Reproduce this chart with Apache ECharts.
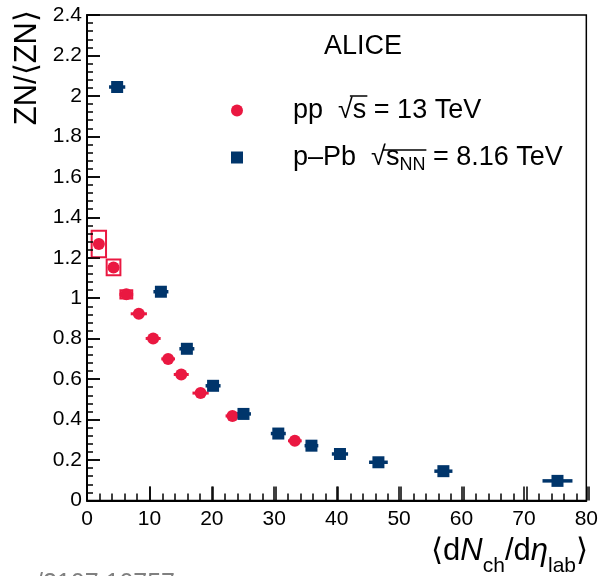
<!DOCTYPE html>
<html>
<head>
<meta charset="utf-8">
<script src="https://cdn.jsdelivr.net/npm/echarts@6/dist/echarts.min.js"></script>
<style>
  html, body { margin: 0; padding: 0; background: #fff; }
  #wrap { position: relative; width: 601px; height: 576px; }
  #chart, #ticks { position: absolute; left: 0; top: 0; width: 601px; height: 576px; }
  #ticks { pointer-events: none; }
</style>
</head>
<body>
<div id="wrap">
  <div id="chart"></div>
  <div id="ticks"></div>
</div>
<script>
// pp 13 TeV
const ppX = [1.9, 4.25, 6.3, 8.3, 10.6, 13.0, 15.1, 18.2, 23.3, 33.3];
const ppY = [1.268, 1.152, 1.019, 0.923, 0.801, 0.700, 0.623, 0.531, 0.418, 0.295];
const ppXErr = [0.4, 0.5, 1.1, 1.3, 1.2, 1.1, 1.2, 1.3, 1.1, 1.1];
const ppSysX = [1.15, 1.1, 0.95, 0, 0, 0, 0, 0, 0, 0];
const ppSysY = [0.066, 0.039, 0.02, 0, 0, 0, 0, 0, 0, 0];

// p-Pb 8.16 TeV
const pPbX = [4.83, 11.84, 16.0, 20.2, 25.07, 30.65, 35.96, 40.53, 46.69, 57.1, 75.38];
const pPbY = [2.044, 1.032, 0.750, 0.567, 0.428, 0.331, 0.271, 0.230, 0.189, 0.145, 0.097];
const pPbXErr = [1.3, 1.2, 1.2, 1.2, 1.2, 1.2, 1.1, 1.3, 1.5, 1.45, 2.4];

const xTicks = [0, 10, 20, 30, 40, 50, 60, 70, 80];
const yTicks = [0, 0.2, 0.4, 0.6, 0.8, 1, 1.2, 1.4, 1.6, 1.8, 2, 2.2, 2.4];

const RED = '#ea1841';
const BLUE = '#00356b';
const FONT = '"Liberation Sans", Arial, Helvetica, sans-serif';

const GRID = { left: 87, right: 12, top: 15, bottom: 75.5 };

const LEG_LEFT = 226;
const LEG_TOP = 92;
const LEG_ICON = 12;
const LEG_PAD = 45;

function zip(xs, ys, ...extra) {
  return xs.map((x, i) => [x, ys[i], ...extra.map((a) => a[i])]);
}

// text widths, for the overline of the square roots in the legend
const mctx = document.createElement('canvas').getContext('2d');
function tw(str, size) {
  mctx.font = size + 'px ' + FONT;
  return mctx.measureText(str).width;
}
const textStart = LEG_LEFT + 5 + LEG_ICON + 5 + LEG_PAD;
const row1 = LEG_TOP + 17;
const row2 = LEG_TOP + 34 + 20 + 17;
const ol1a = textStart + tw('pp  ', 27) + tw('√', 27) * 0.8;
const ol1b = textStart + tw('pp  √s', 27) + 1;
const ol2a = textStart + tw('p–Pb  ', 27) + tw('√', 27) * 0.8;
const ol2b = textStart + tw('p–Pb  √s', 27) + tw('NN', 18) + 1;

function errorBarItem(color, width) {
  return function (params, api) {
    const x = api.value(0);
    const y = api.value(1);
    const e = api.value(2);
    const p1 = api.coord([x - e, y]);
    const p2 = api.coord([x + e, y]);
    return {
      type: 'line',
      shape: { x1: p1[0], y1: p1[1], x2: p2[0], y2: p2[1] },
      style: { stroke: color, lineWidth: width }
    };
  };
}

function sysBoxItem(params, api) {
  const x = api.value(0);
  const y = api.value(1);
  const dx = api.value(2);
  const dy = api.value(3);
  if (!dx || !dy) return null;
  const a = api.coord([x - dx, y + dy]);
  const b = api.coord([x + dx, y - dy]);
  return {
    type: 'rect',
    shape: { x: a[0], y: a[1], width: b[0] - a[0], height: b[1] - a[1] },
    style: { fill: 'none', stroke: RED, lineWidth: 2 }
  };
}

const tickLine = { color: '#000', width: 1.5 };

// main chart: frame, labels, titles, legend and the data
const chart = echarts.init(document.getElementById('chart'));
chart.setOption({
  backgroundColor: '#fff',
  animation: false,
  grid: Object.assign({ show: true, borderColor: '#000', borderWidth: 1.5 }, GRID),
  xAxis: {
    type: 'value', min: xTicks[0], max: xTicks[xTicks.length - 1], interval: 10,
    axisLine: { show: true, onZero: false, lineStyle: { color: '#000', width: 2 } },
    axisTick: { show: true, inside: true, length: 14, lineStyle: tickLine },
    axisLabel: { color: '#000', fontSize: 21, fontFamily: FONT, margin: 8 },
    splitLine: { show: false }
  },
  yAxis: {
    type: 'value', min: yTicks[0], max: yTicks[yTicks.length - 1], interval: 0.2,
    axisLine: { show: true, onZero: false, lineStyle: { color: '#000', width: 2 } },
    axisTick: { show: true, inside: true, length: 13, lineStyle: tickLine },
    axisLabel: { color: '#000', fontSize: 21, fontFamily: FONT, margin: 5 },
    splitLine: { show: false }
  },
  legend: {
    data: [
      { name: 'pp', icon: 'circle' },
      { name: 'pPb', icon: 'rect' }
    ],
    orient: 'vertical',
    left: LEG_LEFT, top: LEG_TOP,
    itemWidth: LEG_ICON, itemHeight: LEG_ICON, itemGap: 20,
    selectedMode: false,
    formatter: (name) => name === 'pp'
      ? '{t|pp  √s = 13 TeV}'
      : '{t|p–Pb  √s}{s|NN}{t| = 8.16 TeV}',
    textStyle: {
      padding: [0, 0, 0, LEG_PAD],
      rich: {
        t: { fontSize: 27, fontFamily: FONT, color: '#000', lineHeight: 34 },
        s: { fontSize: 18, fontFamily: FONT, color: '#000', lineHeight: 22, verticalAlign: 'bottom' }
      }
    }
  },
  graphic: [
    {
      type: 'text', left: 324, top: 33,
      style: { text: 'ALICE', font: '27px ' + FONT, fill: '#000' }
    },
    {
      type: 'text', x: 27, y: 10, rotation: Math.PI / 2,
      style: {
        text: 'ZN/⟨ZN⟩', font: '31px ' + FONT, fill: '#000',
        align: 'right', verticalAlign: 'middle'
      }
    },
    {
      type: 'text', x: 588, y: 525,
      style: {
        text: '{m|⟨d}{i|N}{s|ch}{m|/d}{i|η}{s|lab}{m|⟩}',
        align: 'right', verticalAlign: 'top',
        rich: {
          m: { fontSize: 31, fontFamily: FONT, fill: '#000', lineHeight: 52 },
          i: { fontSize: 31, fontFamily: FONT, fontStyle: 'italic', fill: '#000', lineHeight: 52 },
          s: { fontSize: 21, fontFamily: FONT, fill: '#000', lineHeight: 22, verticalAlign: 'bottom' }
        }
      }
    },
    {
      type: 'text', left: 36, top: 572,
      style: { text: '/2107.10757', font: '25px ' + FONT, fill: '#808080' }
    }
  ],
  series: [
    {
      name: 'ppSys', type: 'custom', renderItem: sysBoxItem,
      data: zip(ppX, ppY, ppSysX, ppSysY), z: 2, silent: true
    },
    {
      name: 'ppErr', type: 'custom', renderItem: errorBarItem(RED, 3),
      data: zip(ppX, ppY, ppXErr), z: 2, silent: true
    },
    {
      name: 'pPbErr', type: 'custom', renderItem: errorBarItem(BLUE, 3.5),
      data: zip(pPbX, pPbY, pPbXErr), z: 2, silent: true
    },
    {
      name: 'pp', type: 'scatter', symbol: 'circle', symbolSize: 12,
      itemStyle: { color: RED, opacity: 1 },
      data: zip(ppX, ppY), z: 3
    },
    {
      name: 'pPb', type: 'scatter', symbol: 'rect', symbolSize: 12,
      itemStyle: { color: BLUE, opacity: 1 },
      data: zip(pPbX, pPbY), z: 3
    }
  ]
});

// transparent overlay on the same grid: major + minor ticks and the root overlines
const ticks = echarts.init(document.getElementById('ticks'));
ticks.setOption({
  animation: false,
  grid: GRID,
  xAxis: {
    type: 'value', min: xTicks[0], max: xTicks[xTicks.length - 1], interval: 10,
    axisLine: { show: false, onZero: false },
    axisTick: { show: true, inside: true, length: 14, lineStyle: tickLine },
    minorTick: { show: true, splitNumber: 5, length: 7, lineStyle: tickLine },
    axisLabel: { show: false },
    splitLine: { show: false }
  },
  yAxis: {
    type: 'value', min: yTicks[0], max: yTicks[yTicks.length - 1], interval: 0.2,
    axisLine: { show: false, onZero: false },
    axisTick: { show: true, inside: true, length: 13, lineStyle: tickLine },
    minorTick: { show: true, splitNumber: 5, length: 6, lineStyle: tickLine },
    axisLabel: { show: false },
    splitLine: { show: false }
  },
  graphic: [
    {
      type: 'line',
      shape: { x1: ol1a, y1: row1 - 13, x2: ol1b, y2: row1 - 13 },
      style: { stroke: '#000', lineWidth: 1.5 }
    },
    {
      type: 'line',
      shape: { x1: ol2a, y1: row2 - 13, x2: ol2b, y2: row2 - 13 },
      style: { stroke: '#000', lineWidth: 1.5 }
    }
  ],
  series: [{ type: 'scatter', data: [], silent: true }]
});
</script>
</body>
</html>
